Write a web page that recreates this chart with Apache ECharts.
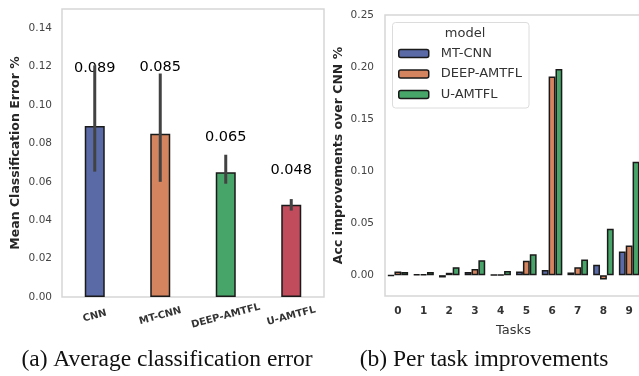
<!DOCTYPE html>
<html>
<head>
<meta charset="utf-8">
<script src="https://cdn.jsdelivr.net/npm/echarts@6/dist/echarts.min.js"></script>
<style>
  html, body { margin: 0; padding: 0; background: #fff; overflow: hidden; }
  /* a bit wider than the window: the right panel is cut at the picture edge */
  #chart { width: 642px; height: 376px; }
</style>
</head>
<body>
<div id="chart"></div>
<script>
// (a) mean error per model
const models = ['CNN', 'MT-CNN', 'DEEP-AMTFL', 'U-AMTFL']
const meanErr = [0.089, 0.085, 0.065, 0.048]
const errLow = [0.0653, 0.060, 0.059, 0.045]
const errHigh = [0.1206, 0.1164, 0.0741, 0.051]
// where the value text sits (in data units)
const labelAt = [0.119, 0.1196, 0.083, 0.0658]

// (b) per task improvement over CNN
const tasks = ['0', '1', '2', '3', '4', '5', '6', '7', '8', '9']
const mtCnn = [-0.0005, 0.0008, -0.0022, 0.003, 0.0004, 0.0035, 0.005, 0.0026, 0.010, 0.0227]
const deepAmtfl = [0.0035, 0.0008, 0.0023, 0.006, 0.0004, 0.0138, 0.191, 0.0077, -0.0041, 0.0285]
const uAmtfl = [0.003, 0.003, 0.0077, 0.0144, 0.004, 0.020, 0.198, 0.015, 0.0445, 0.109]

const colors = ['#5a6aa6', '#d4845e', '#48a56a', '#c04c5c']
const edge = '#1a1a1a'
const frame = '#d6d6d6'
const font = 'DejaVu Sans'

const myChart = echarts.init(document.getElementById('chart'))

// y tick label filters
const leftTicks = (v) => {
  const k = Math.round(v * 100)
  return k % 2 === 0 && k <= 14 ? v.toFixed(2) : ''
}
const rightTicks = (v) => {
  const k = Math.round(v * 100)
  return k >= 0 && k % 5 === 0 ? v.toFixed(2) : ''
}

const barSeries = (name, data, color) => ({
  name: name,
  type: 'bar',
  xAxisIndex: 1,
  yAxisIndex: 1,
  data: data,
  barGap: '0%',
  barCategoryGap: '20%',
  itemStyle: { color: color, borderColor: edge, borderWidth: 1.5 }
})

const option = {
  animation: false,
  textStyle: { fontFamily: font },
  grid: [
    { left: 62, top: 9, width: 262, height: 288, show: true, borderColor: frame, borderWidth: 1.5 },
    { left: 385, top: 15, width: 257, height: 281, show: true, borderColor: frame, borderWidth: 1.5 }
  ],
  xAxis: [
    {
      gridIndex: 0,
      type: 'category',
      data: models,
      axisLine: { show: false },
      axisTick: { show: false },
      axisLabel: {
        rotate: 15,
        align: 'center',
        verticalAlign: 'middle',
        margin: 19,
        fontSize: 10,
        fontWeight: 'bold',
        color: '#333'
      }
    },
    {
      gridIndex: 1,
      type: 'category',
      data: tasks,
      name: 'Tasks',
      nameLocation: 'middle',
      nameGap: 28,
      nameTextStyle: { fontSize: 13, color: '#333' },
      axisLine: { show: false },
      axisTick: { show: false },
      axisLabel: { margin: 10, fontSize: 10.5, fontWeight: 'bold', color: '#333' }
    }
  ],
  yAxis: [
    {
      gridIndex: 0,
      type: 'value',
      min: 0,
      max: 0.15,
      interval: 0.01,
      name: 'Mean Classification Error %',
      nameLocation: 'middle',
      nameGap: 40,
      nameTextStyle: { fontSize: 12.5, fontWeight: 'bold', color: '#262626' },
      splitLine: { show: false },
      axisLine: { show: false },
      axisTick: { show: false },
      axisLabel: { formatter: leftTicks, margin: 10, fontSize: 10.5, color: '#444' }
    },
    {
      gridIndex: 1,
      type: 'value',
      min: -0.02,
      max: 0.25,
      interval: 0.01,
      name: 'Acc improvements over CNN %',
      nameLocation: 'middle',
      nameGap: 40,
      nameTextStyle: { fontSize: 12.5, fontWeight: 'bold', color: '#262626' },
      splitLine: { show: false },
      axisLine: { show: false },
      axisTick: { show: false },
      axisLabel: { formatter: rightTicks, margin: 11, fontSize: 10.5, color: '#444' }
    }
  ],
  legend: {
    data: ['MT-CNN', 'DEEP-AMTFL', 'U-AMTFL'],
    orient: 'vertical',
    left: 398,
    top: 47,
    padding: 0,
    itemWidth: 30,
    itemHeight: 8,
    itemGap: 7.5,
    itemStyle: { borderColor: edge, borderWidth: 1.5 },
    textStyle: { fontSize: 13, lineHeight: 13, color: '#333', padding: [0, 0, 0, 7] }
  },
  graphic: [
    {
      type: 'rect',
      shape: { x: 392.5, y: 22.5, width: 136.5, height: 85.5, r: 3 },
      style: { fill: 'rgba(255,255,255,0.8)', stroke: '#dcdcdc', lineWidth: 1 },
      z: -1
    },
    {
      type: 'text',
      x: 465,
      y: 33.5,
      style: { text: 'model', fontSize: 13, fontFamily: font, fill: '#333', align: 'center', verticalAlign: 'middle' }
    },
    {
      type: 'text',
      x: 167,
      y: 360,
      style: {
        text: '(a) Average classification error',
        fontSize: 23.5,
        fontFamily: 'Liberation Serif',
        fill: '#111',
        align: 'center',
        verticalAlign: 'middle'
      }
    },
    {
      type: 'text',
      x: 484,
      y: 360,
      style: {
        text: '(b) Per task improvements',
        fontSize: 23.5,
        fontFamily: 'Liberation Serif',
        fill: '#111',
        align: 'center',
        verticalAlign: 'middle'
      }
    }
  ],
  series: [
    {
      name: 'error',
      type: 'bar',
      xAxisIndex: 0,
      yAxisIndex: 0,
      barWidth: 20,
      data: meanErr.map((v, i) => ({ value: v, itemStyle: { color: colors[i] } })),
      itemStyle: { borderColor: edge, borderWidth: 1.5 }
    },
    {
      // value text above each bar
      type: 'custom',
      xAxisIndex: 0,
      yAxisIndex: 0,
      z: 3,
      data: models.map((m, i) => [i, labelAt[i], meanErr[i]]),
      renderItem: function (params, api) {
        const p = api.coord([api.value(0), api.value(1)])
        return {
          type: 'text',
          x: p[0],
          y: p[1],
          style: {
            text: api.value(2).toFixed(3),
            fontSize: 14.5,
            fontFamily: font,
            fill: '#000',
            align: 'center',
            verticalAlign: 'middle'
          }
        }
      }
    },
    {
      // error bars
      type: 'custom',
      xAxisIndex: 0,
      yAxisIndex: 0,
      z: 4,
      data: models.map((m, i) => [i, errLow[i], errHigh[i]]),
      renderItem: function (params, api) {
        const lo = api.coord([api.value(0), api.value(1)])
        const hi = api.coord([api.value(0), api.value(2)])
        return {
          type: 'line',
          shape: { x1: lo[0], y1: lo[1], x2: hi[0], y2: hi[1] },
          style: { stroke: '#424242', lineWidth: 3 }
        }
      }
    },
    barSeries('MT-CNN', mtCnn, colors[0]),
    barSeries('DEEP-AMTFL', deepAmtfl, colors[1]),
    barSeries('U-AMTFL', uAmtfl, colors[2])
  ]
}

myChart.setOption(option)
</script>
</body>
</html>
